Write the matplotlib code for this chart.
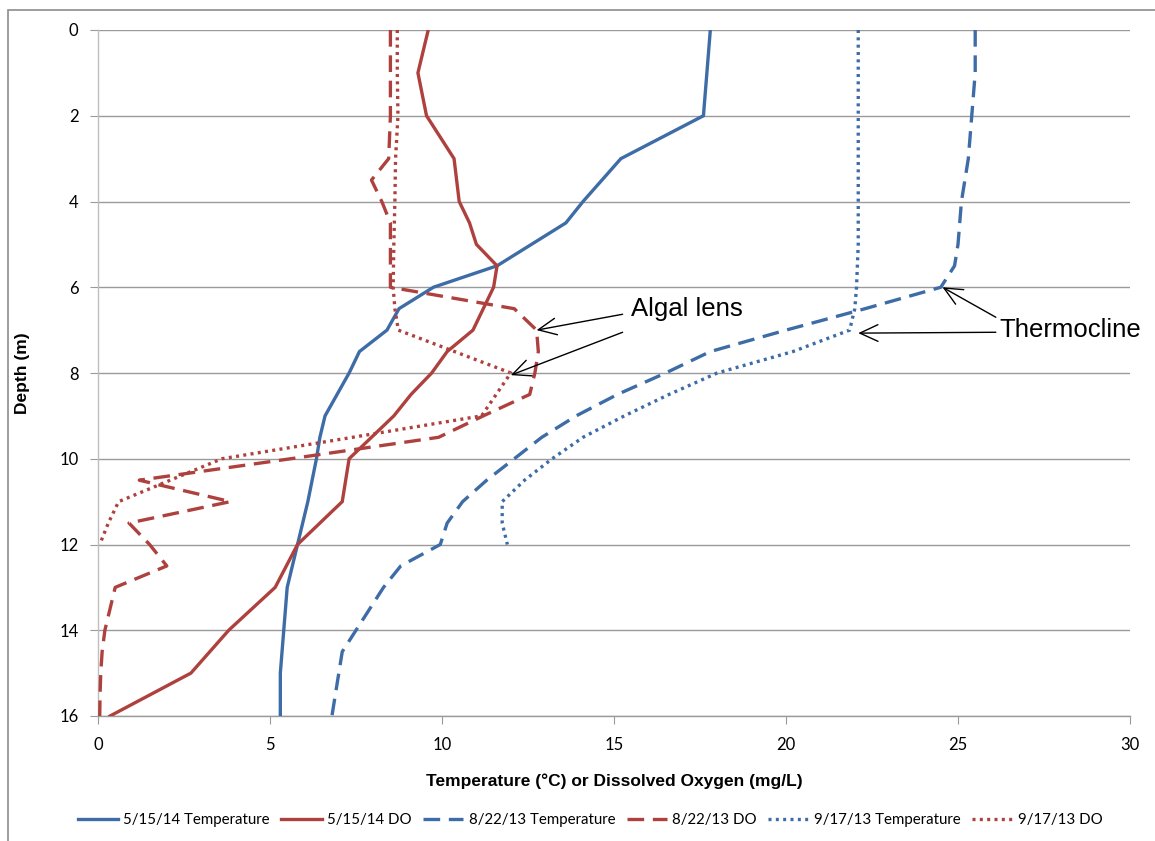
import matplotlib
matplotlib.use("Agg")
import matplotlib.pyplot as plt
from matplotlib.patches import Rectangle

# ---------------- data ----------------
d_t0514 = [0, 1, 2, 3, 4, 4.5, 5, 5.5, 6, 6.5, 7, 7.5, 8, 8.5, 9, 9.5, 10, 11, 12, 13, 14, 15, 16]
v_t0514 = [17.8, 17.7, 17.6, 15.2, 14.1, 13.6, 12.6, 11.6, 9.75, 8.75, 8.4, 7.6, 7.3, 6.95, 6.6, 6.45, 6.35, 6.1, 5.8, 5.5, 5.4, 5.3, 5.3]

d_do0514 = [0, 1, 2, 3, 4, 4.5, 5, 5.5, 6, 7, 7.5, 8, 8.5, 9, 10, 11, 12, 13, 14, 15, 16]
v_do0514 = [9.6, 9.3, 9.55, 10.35, 10.5, 10.8, 11.0, 11.6, 11.5, 10.9, 10.15, 9.7, 9.1, 8.6, 7.3, 7.1, 5.8, 5.15, 3.8, 2.7, 0.35]

d_t0822 = [0, 1, 2, 3, 4, 5, 5.5, 6, 6.5, 7, 7.5, 8, 8.5, 9, 9.5, 10, 10.5, 11, 11.5, 12, 12.5, 13, 13.5, 14, 14.5, 15, 15.5, 16]
v_t0822 = [25.5, 25.5, 25.4, 25.3, 25.1, 25.0, 24.9, 24.5, 22.3, 20.0, 17.8, 16.5, 15.1, 13.9, 12.9, 12.1, 11.3, 10.6, 10.15, 9.95, 8.8, 8.3, 7.9, 7.5, 7.1, 7.0, 6.9, 6.8]

d_do0822 = [0, 1, 2, 3, 3.5, 4, 4.5, 5, 5.5, 6, 6.5, 7, 7.5, 8, 8.5, 9, 9.5, 10, 10.5, 11, 11.5, 12, 12.5, 13, 13.5, 14, 14.5, 15, 15.5, 16]
v_do0822 = [8.5, 8.5, 8.5, 8.45, 7.95, 8.25, 8.5, 8.5, 8.5, 8.5, 12.1, 12.75, 12.8, 12.7, 12.55, 11.2, 9.9, 5.6, 1.2, 3.85, 0.9, 1.5, 2.0, 0.5, 0.35, 0.2, 0.12, 0.08, 0.06, 0.05]

d_t0917 = [0, 1, 2, 3, 4, 5, 6, 6.5, 7, 7.5, 8, 8.5, 9, 9.5, 10, 10.5, 11, 11.5, 12]
v_t0917 = [22.1, 22.1, 22.1, 22.1, 22.1, 22.1, 22.05, 22.0, 21.85, 20.2, 18.0, 16.6, 15.3, 14.1, 13.2, 12.4, 11.75, 11.75, 11.9]

d_do0917 = [0, 1, 2, 3, 4, 5, 6, 6.5, 7, 8, 9, 9.5, 10, 10.5, 11, 11.5, 12]
v_do0917 = [8.7, 8.7, 8.72, 8.65, 8.63, 8.6, 8.58, 8.63, 8.73, 12.0, 11.15, 7.4, 3.6, 2.1, 0.6, 0.3, 0.05]

labels = ["5/15/14 Temperature", "5/15/14 DO", "8/22/13 Temperature",
          "8/22/13 DO", "9/17/13 Temperature", "9/17/13 DO"]
x_ticks = [0, 5, 10, 15, 20, 25, 30]
y_ticks = [0, 2, 4, 6, 8, 10, 12, 14, 16]

# ---------------- figure ----------------
W, H = 1155, 841
fig = plt.figure(figsize=(W / 100, H / 100), dpi=100)
ax = fig.add_axes([98 / W, 1 - 716 / H, (1130 - 98) / W, (716 - 30) / H])

blue = "#3D6CA6"
red = "#AE413E"
lw = 2.4
dash = (0, (5.0, 2.6))
dot = (0, (0.9, 1.3))

series = [
    (v_t0514, d_t0514, blue, "-"),
    (v_do0514, d_do0514, red, "-"),
    (v_t0822, d_t0822, blue, dash),
    (v_do0822, d_do0822, red, dash),
    (v_t0917, d_t0917, blue, dot),
    (v_do0917, d_do0917, red, dot),
]
handles = []
for (x, y, c, ls), lab in zip(series, labels):
    h, = ax.plot(x, y, color=c, lw=lw, ls=ls, label=lab, solid_joinstyle="miter",
                 dash_capstyle="butt", zorder=3)
    handles.append(h)

ax.set_xlim(0, 30)
ax.set_ylim(16, 0)
ax.set_xticks(x_ticks)
ax.set_yticks(y_ticks)
ax.yaxis.grid(True, color="#9A9A9A", lw=1.0)
ax.xaxis.grid(False)
ax.set_axisbelow(True)
for s in ["top", "right"]:
    ax.spines[s].set_visible(False)
ax.spines["left"].set_color("#BEBEBE")
ax.spines["bottom"].set_color("#9A9A9A")
ax.spines["left"].set_linewidth(1.0)
ax.spines["bottom"].set_linewidth(1.0)
ax.tick_params(axis="y", length=6, color="#9A9A9A", pad=8, labelsize=12)
ax.tick_params(axis="x", length=6, color="#9A9A9A", pad=9, labelsize=12)
for t in ax.get_xticklabels() + ax.get_yticklabels():
    t.set_family("Lato")

ax.set_xlabel("Temperature (°C) or Dissolved Oxygen (mg/L)", family="Liberation Sans",
              fontweight="bold", fontsize=12.5)
ax.set_ylabel("Depth (m)", family="Liberation Sans", fontweight="bold", fontsize=12.5)
ax.xaxis.set_label_coords(0.5, -(773 - 716) / 686)
ax.yaxis.set_label_coords(-(98 - 30) / 1032, 0.5)

# ---------------- annotations ----------------
arrow_kw = dict(arrowstyle="->,head_length=0.65,head_width=0.3", color="black", lw=1.0,
                shrinkA=0, shrinkB=0, mutation_scale=20)
ax.text(15.5, 6.5, "Algal lens", family="Liberation Sans", fontsize=18.5, va="center", ha="left")
ax.annotate("", xy=(12.75, 7.0), xytext=(15.25, 6.63), arrowprops=arrow_kw)
ax.annotate("", xy=(12.0, 8.05), xytext=(15.25, 7.05), arrowprops=arrow_kw)

ax.text(26.2, 7.0, "Thermocline", family="Liberation Sans", fontsize=18.5, va="center", ha="left")
ax.annotate("", xy=(24.55, 6.0), xytext=(26.1, 6.7), arrowprops=arrow_kw)
ax.annotate("", xy=(22.1, 7.07), xytext=(26.1, 7.05), arrowprops=arrow_kw)

# ---------------- legend ----------------
leg = fig.legend(handles=handles, labels=labels, loc="center", ncol=6,
                 bbox_to_anchor=(590 / W, 1 - 820 / H), frameon=False,
                 prop={"family": "Lato", "size": 10.8}, handlelength=2.7,
                 handletextpad=0.35, columnspacing=0.75)

# chart-area border
fig.add_artist(Rectangle((8 / W, -0.05), 1.2, 1.05 - 10 / H, transform=fig.transFigure,
                         fill=False, edgecolor="#8C8C8C", lw=1.2))

fig.savefig("out.png", dpi=100)
